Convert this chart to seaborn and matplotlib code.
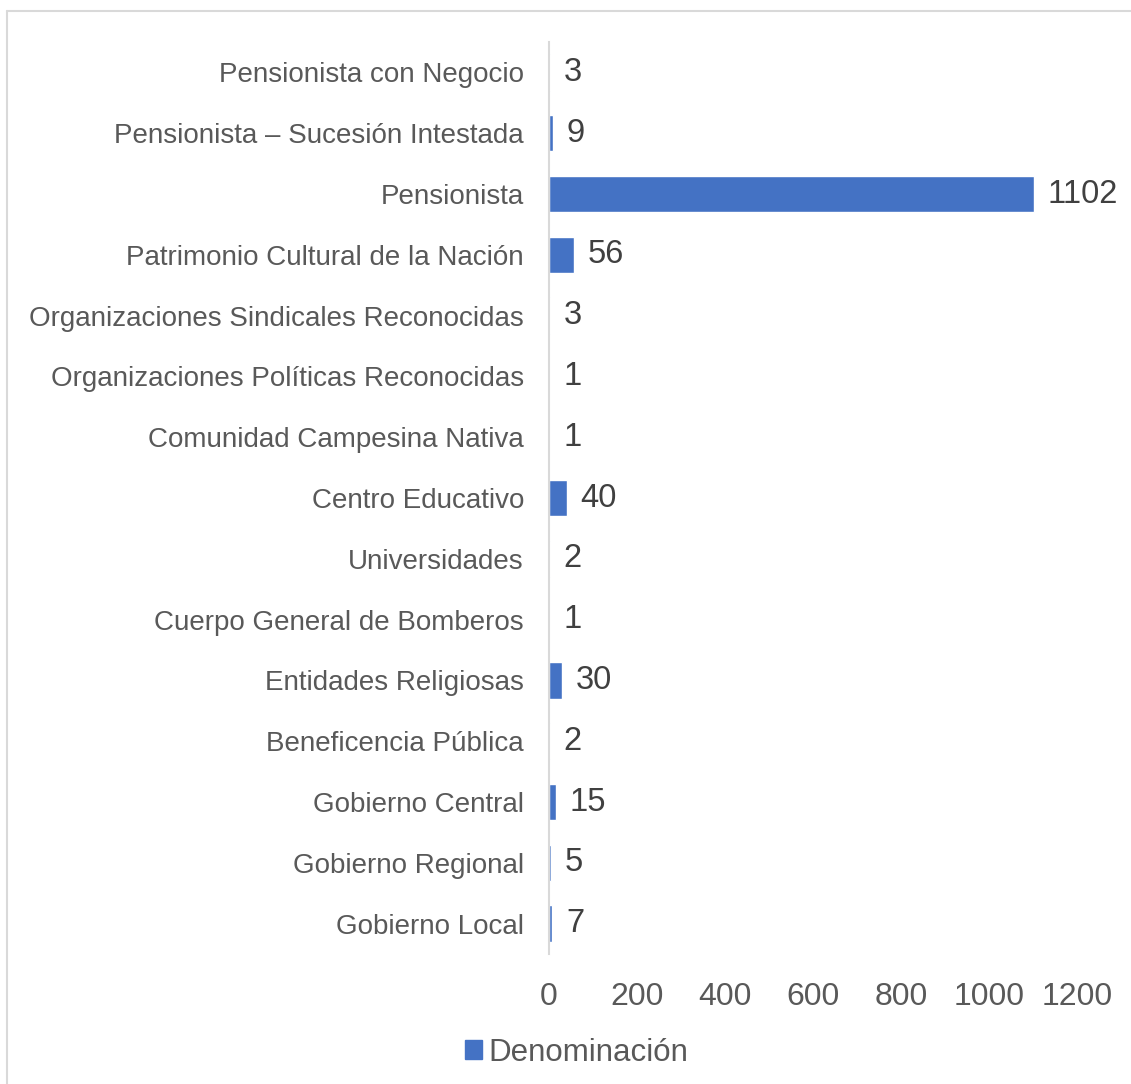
import pandas as pd
import matplotlib.pyplot as plt
import seaborn as sns
from matplotlib.lines import Line2D
from matplotlib.patches import Patch

categorias = [
    "Pensionista con Negocio",
    "Pensionista – Sucesión Intestada",
    "Pensionista",
    "Patrimonio Cultural de la Nación",
    "Organizaciones Sindicales Reconocidas",
    "Organizaciones Políticas Reconocidas",
    "Comunidad Campesina Nativa",
    "Centro Educativo",
    "Universidades",
    "Cuerpo General de Bomberos",
    "Entidades Religiosas",
    "Beneficencia Pública",
    "Gobierno Central",
    "Gobierno Regional",
    "Gobierno Local",
]
valores = [3, 9, 1102, 56, 3, 1, 1, 40, 2, 1, 30, 2, 15, 5, 7]
serie = "Denominación"
xticks = [0, 200, 400, 600, 800, 1000, 1200]

df = pd.DataFrame({"Categoria": categorias, serie: valores})

sns.set_style("white")
plt.rcParams["font.family"] = ["Liberation Sans", "DejaVu Sans"]

fig = plt.figure(figsize=(11.31, 10.84), dpi=100)
ax = fig.add_axes([0.4854, 0.1199, 0.4668, 0.8413])

azul = "#4472C4"
sns.barplot(data=df, x=serie, y="Categoria", orient="h", color=azul,
            width=0.6, saturation=1, ax=ax)

ax.set_xlim(0, 1200)
ax.set_xticks(xticks)
ax.set_xticklabels([str(t) for t in xticks])
ax.set_xlabel("")
ax.set_ylabel("")
ax.tick_params(axis="x", length=0, pad=20, labelsize=23, labelcolor="#595959")
ax.tick_params(axis="y", length=0, pad=18, labelsize=20, labelcolor="#595959")
for s in ["top", "right", "bottom"]:
    ax.spines[s].set_visible(False)
ax.spines["left"].set_color("#D9D9D9")
ax.spines["left"].set_linewidth(1.5)

for container in ax.containers:
    ax.bar_label(container, fmt="%d", fontsize=23.5, color="#404040", padding=10)

handle = Patch(facecolor=azul, edgecolor=azul)
fig.legend([handle], [serie], loc="center", bbox_to_anchor=(0.51, 0.029),
           frameon=False, fontsize=22.5, handlelength=0.54, handleheight=0.54,
           handletextpad=0.22, labelcolor="#595959")

# marco del gráfico
x0, y0 = 7 / 1131, 1 - 11 / 1084
fig.add_artist(Line2D([x0, x0], [0, y0], color="#D9D9D9", lw=1.5, transform=fig.transFigure))
fig.add_artist(Line2D([x0, 1], [y0, y0], color="#D9D9D9", lw=1.5, transform=fig.transFigure))

fig.savefig("out.png", dpi=100)
